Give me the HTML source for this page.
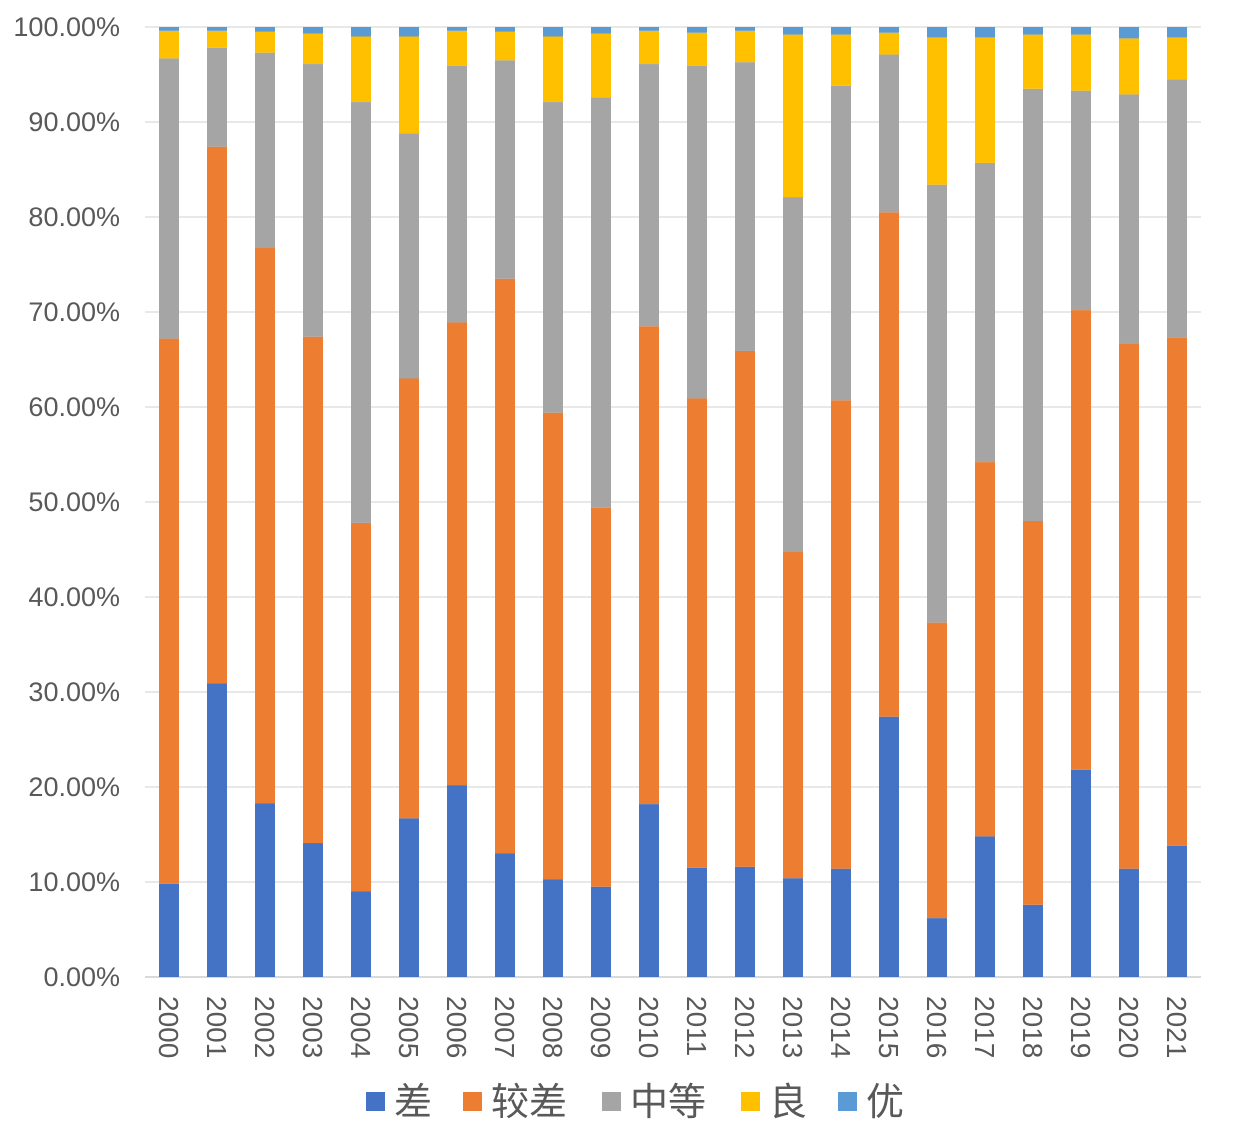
<!DOCTYPE html>
<html><head><meta charset="utf-8"><style>
html,body{margin:0;padding:0;background:#fff;}
svg{display:block;font-family:"Liberation Sans","Noto Sans CJK SC",sans-serif;}
</style></head><body>
<svg id="chart" width="1258" height="1142" viewBox="0 0 1258 1142"></svg>
<script>
const categories=["2000","2001","2002","2003","2004","2005","2006","2007","2008","2009","2010","2011","2012","2013","2014","2015","2016","2017","2018","2019","2020","2021"];
const seriesNames=["差","较差","中等","良","优"];
const cha=[9.8,30.9,18.3,14.1,9.0,16.7,20.2,13.0,10.3,9.5,18.2,11.5,11.6,10.4,11.4,27.4,6.2,14.8,7.6,21.8,11.4,13.8];
const jiaocha=[57.4,56.5,58.5,53.3,38.8,46.3,48.7,60.5,49.1,39.9,50.3,49.4,54.3,34.4,49.3,53.1,31.1,39.4,40.4,48.4,55.3,53.5];
const zhongdeng=[29.5,10.4,20.5,28.7,44.3,25.8,27.0,23.0,32.7,43.2,27.6,35.0,30.4,37.3,33.1,16.6,46.1,31.5,45.5,23.1,26.2,27.2];
const liang=[2.9,1.8,2.2,3.2,6.9,10.2,3.7,3.0,6.9,6.7,3.5,3.5,3.3,17.1,5.4,2.3,15.5,13.2,5.7,5.9,5.9,4.4];
const you=[0.4,0.4,0.5,0.7,1.0,1.0,0.4,0.5,1.0,0.7,0.4,0.6,0.4,0.8,0.8,0.6,1.1,1.1,0.8,0.8,1.2,1.1];
const yTicks=[0,10,20,30,40,50,60,70,80,90,100];
const yTickLabels=["0.00%","10.00%","20.00%","30.00%","40.00%","50.00%","60.00%","70.00%","80.00%","90.00%","100.00%"];

const colors=["#4472c4","#ed7d31","#a5a5a5","#ffc000","#5b9bd5"];
const series=[cha,jiaocha,zhongdeng,liang,you];
const NS="http://www.w3.org/2000/svg";
const svg=document.getElementById('chart');
const plotL=145,plotR=1201,y0=977,y100=27;
const yScale=v=>y0-(v/100)*(y0-y100);
const step=(plotR-plotL)/categories.length;
const xCenter=i=>plotL+step*(i+0.5);
const barW=20;
function mk(tag,attrs){const e=document.createElementNS(NS,tag);for(const k in attrs)e.setAttribute(k,attrs[k]);return e;}

yTicks.forEach((t,i)=>{
  const y=yScale(t);
  const l=mk('line',{x1:plotL,x2:plotR,y1:y,y2:y,stroke:'#d9d9d9','stroke-width':t===0?2:1.3});
  
  
  svg.appendChild(l);
  const tx=mk('text',{x:120,y:y+9,'text-anchor':'end','font-size':27,fill:'#595959'});
  tx.textContent=yTickLabels[i];
  
  
  svg.appendChild(tx);
});

categories.forEach((c,i)=>{
  let cum=0;
  series.forEach((s,k)=>{
    const v=s[i];
    const yt=yScale(cum+v),yb=yScale(cum);
    const r=mk('rect',{x:xCenter(i)-barW/2,y:yt,width:barW,height:Math.max(0,yb-yt),fill:colors[k]});
    
    
    svg.appendChild(r);
    cum+=v;
  });
  const cx=xCenter(i);
  const t=mk('text',{x:0,y:0,'font-size':28,fill:'#595959',transform:`translate(${cx-10},996) rotate(90)`});
  t.textContent=c;
  
  
  svg.appendChild(t);
});

const legX=[366,463,602,741,838];
seriesNames.forEach((n,k)=>{
  const g=mk('g',{});
  
  
  g.appendChild(mk('rect',{x:legX[k],y:1092,width:19,height:19,fill:colors[k]}));
  const t=mk('text',{x:legX[k]+28,y:1115,'font-size':38,fill:'#595959'});
  t.textContent=n;
  g.appendChild(t);
  svg.appendChild(g);
});
</script>
</body></html>
